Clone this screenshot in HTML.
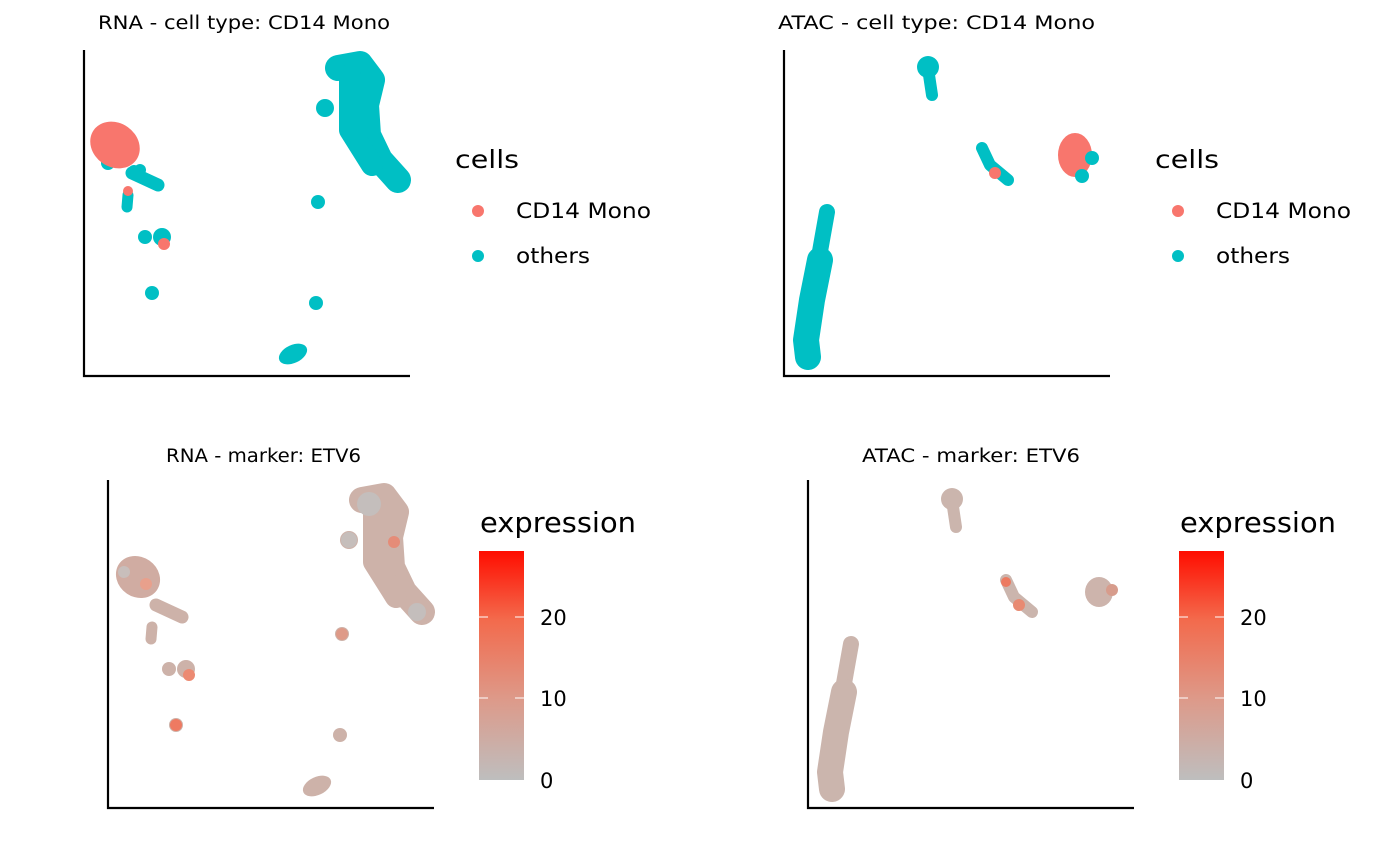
<!DOCTYPE html>
<html><head><meta charset="utf-8"><style>
html,body{margin:0;padding:0;background:#fff;}
svg{display:block;font-family:"DejaVu Sans","Liberation Sans",sans-serif;}
</style></head><body>
<svg width="1400" height="865" viewBox="0 0 1400 865" xmlns="http://www.w3.org/2000/svg">
<defs>
<linearGradient id="cb" x1="0" y1="1" x2="0" y2="0">
<stop offset="0" stop-color="#bebebe"/><stop offset="0.35" stop-color="#dd9a8a"/><stop offset="0.7" stop-color="#f36a4c"/><stop offset="1" stop-color="#ff0d00"/>
</linearGradient>
<g id="rna">
 <path d="M338,68 L360,64 L372,80 L366,105 L368,135 L380,160 L398,180" fill="none" stroke="currentColor" stroke-width="26" stroke-linecap="round" stroke-linejoin="round"/>
 <path d="M350,75 L350,130 L372,165" fill="none" stroke="currentColor" stroke-width="22" stroke-linecap="round" stroke-linejoin="round"/>
 <circle cx="325" cy="108" r="9" fill="currentColor"/>
 <path d="M132,173 L158,185" stroke="currentColor" stroke-width="13" stroke-linecap="round"/>
 <path d="M128,195 L127,207" stroke="currentColor" stroke-width="11" stroke-linecap="round"/>
 <circle cx="145" cy="237" r="7" fill="currentColor"/>
 <circle cx="162" cy="237" r="9" fill="currentColor"/>
 <circle cx="152" cy="293" r="7" fill="currentColor"/>
 <circle cx="318" cy="202" r="7" fill="currentColor"/>
 <circle cx="316" cy="303" r="7" fill="currentColor"/>
 <ellipse cx="293" cy="354" rx="15" ry="9" transform="rotate(-25 293 354)" fill="currentColor"/>
</g>
<g id="atac">
 <circle cx="928" cy="67" r="11" fill="currentColor"/>
 <path d="M929,75 L932,95" stroke="currentColor" stroke-width="12" stroke-linecap="round"/>
 <path d="M982,148 L990,165 L1008,180" fill="none" stroke="currentColor" stroke-width="12" stroke-linecap="round" stroke-linejoin="round"/>
 <path d="M827,212 L822,240 L815,280 L808,330 L806,355" fill="none" stroke="currentColor" stroke-width="16" stroke-linecap="round" stroke-linejoin="round"/>
 <path d="M820,260 L812,300 L806,340 L808,357" fill="none" stroke="currentColor" stroke-width="26" stroke-linecap="round" stroke-linejoin="round"/>
</g>
</defs>

<!-- Top-left -->
<text x="98" y="29" font-size="18.5" textLength="292" lengthAdjust="spacingAndGlyphs">RNA - cell type: CD14 Mono</text>
<g color="#00bfc4"><use href="#rna"/></g>
<circle cx="108" cy="163" r="7" fill="#00bfc4"/><circle cx="140" cy="170" r="6" fill="#00bfc4"/>
<ellipse cx="115" cy="145" rx="26" ry="22" transform="rotate(35 115 145)" fill="#f8766d"/>
<circle cx="128" cy="191" r="5" fill="#f8766d"/>
<circle cx="164" cy="244" r="6" fill="#f8766d"/>
<circle cx="134" cy="171" r="6" fill="#00bfc4"/>
<path d="M84,50 V376 H410" fill="none" stroke="#000" stroke-width="2.2"/>
<text x="455" y="168" font-size="25" textLength="64" lengthAdjust="spacingAndGlyphs">cells</text>
<circle cx="478" cy="211" r="6" fill="#f8766d"/><text x="516" y="218" font-size="21" textLength="135" lengthAdjust="spacingAndGlyphs">CD14 Mono</text>
<circle cx="478" cy="256" r="6" fill="#00bfc4"/><text x="516" y="263" font-size="21" textLength="74" lengthAdjust="spacingAndGlyphs">others</text>

<!-- Top-right -->
<text x="778" y="29" font-size="18.5" textLength="317" lengthAdjust="spacingAndGlyphs">ATAC - cell type: CD14 Mono</text>
<g color="#00bfc4"><use href="#atac"/></g>
<circle cx="995" cy="173" r="6" fill="#f8766d"/>
<ellipse cx="1075" cy="155" rx="17" ry="22" fill="#f8766d"/>
<circle cx="1092" cy="158" r="7" fill="#00bfc4"/>
<circle cx="1082" cy="176" r="7" fill="#00bfc4"/>
<path d="M784,50 V376 H1110" fill="none" stroke="#000" stroke-width="2.2"/>
<text x="1155" y="168" font-size="25" textLength="64" lengthAdjust="spacingAndGlyphs">cells</text>
<circle cx="1178" cy="211" r="6" fill="#f8766d"/><text x="1216" y="218" font-size="21" textLength="135" lengthAdjust="spacingAndGlyphs">CD14 Mono</text>
<circle cx="1178" cy="256" r="6" fill="#00bfc4"/><text x="1216" y="263" font-size="21" textLength="74" lengthAdjust="spacingAndGlyphs">others</text>

<!-- Bottom-left -->
<text x="166" y="462" font-size="18.5" textLength="195" lengthAdjust="spacingAndGlyphs">RNA - marker: ETV6</text>
<g transform="translate(24,432)" color="#cdb2a9">
 <use href="#rna"/>
 <ellipse cx="114" cy="145" rx="23" ry="20" transform="rotate(35 114 145)" fill="#d0aca2"/>
 <circle cx="152" cy="293" r="6" fill="#ee7a62"/>
 <circle cx="165" cy="243" r="6" fill="#ec8a72"/>
 <circle cx="318" cy="202" r="6" fill="#de9a88"/>
 <circle cx="325" cy="108" r="8" fill="#c6bebb"/>
 <circle cx="345" cy="72" r="12" fill="#c4bebc"/>
 <circle cx="393" cy="180" r="9" fill="#c4bebc"/>
 <circle cx="370" cy="110" r="6" fill="#e58c78"/>
 <circle cx="100" cy="140" r="6" fill="#c8bebb"/>
 <circle cx="122" cy="152" r="6" fill="#e8a08c"/>
</g>
<path d="M108,480 V808 H434" fill="none" stroke="#000" stroke-width="2.2"/>
<text x="480" y="532" font-size="28" textLength="156" lengthAdjust="spacingAndGlyphs">expression</text>
<rect x="479" y="551" width="45" height="229" fill="url(#cb)"/>
<g stroke="#fff" stroke-width="1"><path d="M479,617h9M515,617h9M479,698h9M515,698h9"/></g>
<text x="540" y="625" font-size="21">20</text>
<text x="540" y="706" font-size="21">10</text>
<text x="540" y="788" font-size="21">0</text>

<!-- Bottom-right -->
<text x="862" y="462" font-size="18.5" textLength="218" lengthAdjust="spacingAndGlyphs">ATAC - marker: ETV6</text>
<g transform="translate(24,432)" color="#cbb5ad">
 <use href="#atac"/>
 <circle cx="995" cy="173" r="6" fill="#e88a72"/>
 <circle cx="982" cy="150" r="5" fill="#ec7a60"/>
 <ellipse cx="1075" cy="160" rx="14" ry="15" fill="#cdb4ac"/>
 <circle cx="1088" cy="158" r="6" fill="#d79c8c"/>
</g>
<path d="M808,480 V808 H1134" fill="none" stroke="#000" stroke-width="2.2"/>
<text x="1180" y="532" font-size="28" textLength="156" lengthAdjust="spacingAndGlyphs">expression</text>
<rect x="1179" y="551" width="45" height="229" fill="url(#cb)"/>
<g stroke="#fff" stroke-width="1"><path d="M1179,617h9M1215,617h9M1179,698h9M1215,698h9"/></g>
<text x="1240" y="625" font-size="21">20</text>
<text x="1240" y="706" font-size="21">10</text>
<text x="1240" y="788" font-size="21">0</text>
</svg>
</body></html>
